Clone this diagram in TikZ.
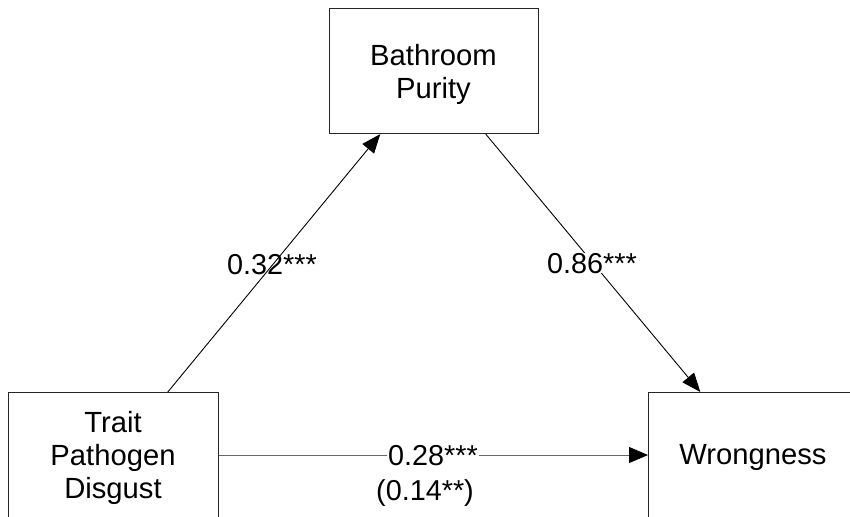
\documentclass[tikz,border=0pt]{standalone}
\usepackage{fontspec}
\setmainfont{Liberation Sans}
\usetikzlibrary{arrows.meta,calc}
\begin{document}
\begin{tikzpicture}[x=1pt,y=-1pt,
  boxnode/.style={draw=black!85,line width=1.1pt,rectangle,minimum width=210pt,minimum height=125pt,inner sep=0pt,anchor=north west},
  txt/.style={font=\fontsize{29.2}{33}\selectfont,align=center,inner sep=0pt},
  lbl/.style={font=\fontsize{28.8}{33}\selectfont,inner sep=0pt,anchor=base},
  conn/.style={line width=0.9pt,black,-{Triangle[length=19pt,width=15pt]}},
  hconn/.style={line width=1pt,black!60,-{Triangle[length=19pt,width=16pt,fill=black,color=black]}}
]
\useasboundingbox (0,0) rectangle (850,516);
\clip (0,0) rectangle (850,516);
\node[boxnode,minimum width=209pt] (bp) at (329,8) {};
\node[boxnode] (tpd) at (8,392) {};
\node[boxnode] (wr) at (648,392) {};
\node[txt] (bpt) at (433.5,74.3) {Bathroom\\Purity};
\node[txt] (tpdt) at (113,457.5) {Trait\\Pathogen\\Disgust};
\node[txt] (wrt) at (753,457.8) {Wrongness};
\draw[conn] ($(tpd.north west)!0.757!(tpd.north east)$) -- ($(bp.south west)!0.244!(bp.south east)$);
\draw[conn] ($(bp.south west)!0.746!(bp.south east)$) -- ($(wr.north west)!0.248!(wr.north east)$);
\draw[hconn] (tpd.east |- 0,455) coordinate (hs) -- (wr.west |- hs);
\node[lbl] (l1) at (272,274) {0.32***};
\node[lbl,fill=white] (l2) at (592,273) {0.86***};
\node[lbl,fill=white,inner xsep=1pt] (l3) at (433,465) {0.28***};
\node[lbl] (l4) at (425,500.5) {(0.14**)};
\end{tikzpicture}
\end{document}
